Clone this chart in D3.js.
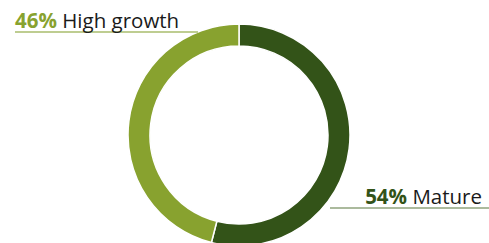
<!DOCTYPE html>
<html>
<head>
<meta charset="utf-8">
<script src="https://cdn.jsdelivr.net/npm/d3@7"></script>
<style>
  body { margin: 0; background: #fff; }
  svg { display: block; font-family: "Open Sans", sans-serif; }
</style>
</head>
<body>
<div id="chart"></div>
<script>
const categories = ["Mature", "High growth"];
const values = [54, 46];
const colors = ["#335318", "#88a22f"];
const lineColors = ["#8fa37c", "#a8bd6c"];

const width = 489, height = 243;
const cx = 239, cy = 135, outer = 111, inner = 89;

const svg = d3.select("#chart").append("svg")
    .attr("width", width)
    .attr("height", height);

const pie = d3.pie().sort(null).value(d => d);
const arc = d3.arc().innerRadius(inner).outerRadius(outer);

const g = svg.append("g").attr("transform", "translate(" + cx + "," + cy + ")");

g.selectAll("path")
  .data(pie(values))
  .enter().append("path")
    .attr("d", arc)
    .attr("fill", (d, i) => colors[i])
    .attr("stroke", "#fff")
    .attr("stroke-width", 1.5);

// leader lines + labels
const labels = [
  { x1: 330, x2: 489, y: 208, tx: 482, anchor: "end" },
  { x1: 15, x2: 198, y: 32, tx: 15, anchor: "start" }
];

labels.forEach((l, i) => {
  svg.append("line")
      .attr("x1", l.x1).attr("x2", l.x2)
      .attr("y1", l.y).attr("y2", l.y)
      .attr("stroke", lineColors[i])
      .attr("stroke-width", 1.5);

  const t = svg.append("text")
      .attr("x", l.tx)
      .attr("y", l.y - 4)
      .attr("text-anchor", l.anchor)
      .style("font-size", "20.5px");
  t.append("tspan")
      .attr("font-weight", "bold")
      .attr("fill", colors[i])
      .text(values[i] + "%");
  t.append("tspan")
      .attr("fill", "#1a1a1a")
      .text(" " + categories[i]);
});
</script>
</body>
</html>
